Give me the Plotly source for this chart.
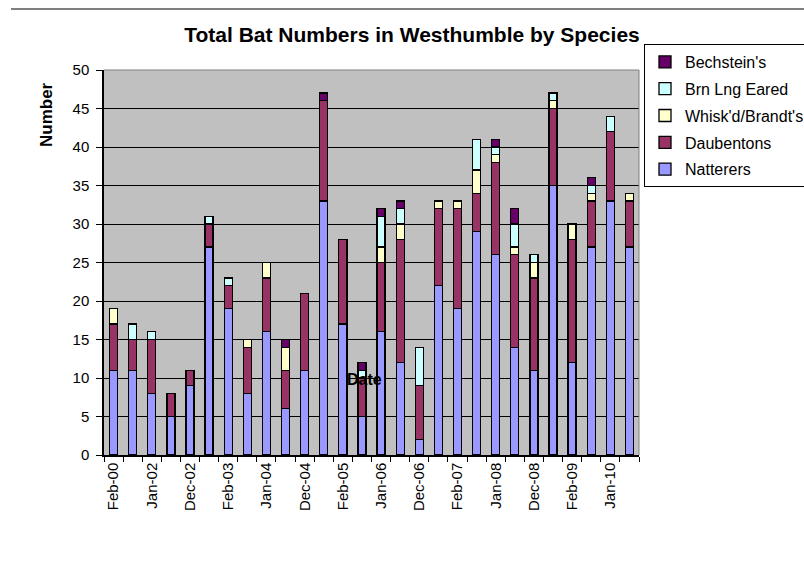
import plotly.graph_objects as go

# Survey dates (every other one is labelled on the axis)
dates = ["Feb-00", "Feb-01", "Jan-02", "Feb-02", "Dec-02", "Jan-03", "Feb-03",
         "Dec-03", "Jan-04", "Feb-04", "Dec-04", "Jan-05", "Feb-05", "Dec-05",
         "Jan-06", "Feb-06", "Dec-06", "Jan-07", "Feb-07", "Dec-07", "Jan-08",
         "Feb-08", "Dec-08", "Jan-09", "Feb-09", "Dec-09", "Jan-10", "Feb-10"]

natterers = [11, 11, 8, 5, 9, 27, 19, 8, 16, 6, 11, 33, 17, 5, 16, 12, 2, 22, 19,
             29, 26, 14, 11, 35, 12, 27, 33, 27]
daubentons = [6, 4, 7, 3, 2, 3, 3, 6, 7, 5, 10, 13, 11, 5, 9, 16, 7, 10, 13, 5,
              12, 12, 12, 10, 16, 6, 9, 6]
whiskered_brandts = [2, 0, 0, 0, 0, 0, 0, 1, 2, 3, 0, 0, 0, 0, 2, 2, 0, 1, 1, 3,
                     1, 1, 2, 1, 2, 1, 0, 1]
brown_long_eared = [0, 2, 1, 0, 0, 1, 1, 0, 0, 0, 0, 0, 0, 1, 4, 2, 5, 0, 0, 4,
                    1, 3, 1, 1, 0, 1, 2, 0]
bechsteins = [0, 0, 0, 0, 0, 0, 0, 0, 0, 1, 0, 1, 0, 1, 1, 1, 0, 0, 0, 0, 1, 2,
              0, 0, 0, 1, 0, 0]

series = [
    ("Natterers", natterers, "#9999FF"),
    ("Daubentons", daubentons, "#993366"),
    ("Whisk'd/Brandt's", whiskered_brandts, "#FFFFCC"),
    ("Brn Lng Eared", brown_long_eared, "#CCFFFF"),
    ("Bechstein's", bechsteins, "#660066"),
]

FONT = "Liberation Sans, Arial, sans-serif"

# plot-area box in pixels
PL, PR, PT, PB = 104, 639, 70, 455
PW, PH = PR - PL, PB - PT

fig = go.Figure()
for i, (name, vals, color) in enumerate(series):
    fig.add_trace(go.Bar(
        x=dates,
        y=[v if v else None for v in vals],
        name=name,
        legendgroup=name,
        legendrank=len(series) - i,
        marker=dict(color=color, line=dict(color="black", width=1.3)),
    ))

tick_text = [d if i % 2 == 0 else "" for i, d in enumerate(dates)]

fig.update_layout(
    width=804, height=579,
    barmode="stack",
    bargap=0.58,
    paper_bgcolor="white",
    plot_bgcolor="#C0C0C0",
    font=dict(family=FONT, size=15, color="black"),
    margin=dict(l=PL, r=804 - PR, t=PT, b=579 - PB, autoexpand=False),
    title=dict(
        text="<b>Total Bat Numbers in Westhumble by Species</b>",
        font=dict(family=FONT, size=21, color="black"),
        xref="container", yref="container",
        x=412 / 804, xanchor="center",
        y=1 - 35 / 579, yanchor="middle",
    ),
    showlegend=True,
    legend=dict(
        traceorder="grouped",
        tracegroupgap=3,
        x=(644 - PL) / PW, xanchor="left",
        y=(PB - 44) / PH, yanchor="top",
        bgcolor="white",
        bordercolor="black", borderwidth=1,
        font=dict(family=FONT, size=16, color="black"),
        itemwidth=30,
    ),
    xaxis=dict(
        type="category",
        tickmode="array",
        tickvals=dates,
        ticktext=tick_text,
        tickson="boundaries",
        tickangle=-90,
        ticks="outside", ticklen=5, tickcolor="black",
        showgrid=False,
        showline=True, linecolor="black", linewidth=1.5,
        tickfont=dict(family=FONT, size=15),
    ),
    yaxis=dict(
        range=[0, 50],
        tick0=0, dtick=5,
        ticks="outside", ticklen=6, tickcolor="black",
        showgrid=True, gridcolor="black", gridwidth=1,
        zeroline=False,
        showline=True, linecolor="black", linewidth=1.5,
        tickfont=dict(family=FONT, size=15),
        ticklabelstandoff=4,
    ),
    shapes=[
        # top and right edges of the plot area
        dict(type="line", xref="paper", yref="paper", x0=0, x1=1, y0=1, y1=1,
             line=dict(color="#808080", width=1)),
        dict(type="line", xref="paper", yref="paper", x0=1, x1=1, y0=0, y1=1,
             line=dict(color="#808080", width=1)),
        # chart-area rule across the top
        dict(type="line", xref="paper", yref="paper",
             x0=(11 - PL) / PW, x1=(804 - PL) / PW,
             y0=(PB - 9) / PH, y1=(PB - 9) / PH,
             line=dict(color="#555555", width=1.5)),
    ],
    annotations=[
        dict(text="<b>Number</b>", xref="paper", yref="paper",
             x=(46 - PL) / PW, y=(PB - 115) / PH,
             xanchor="center", yanchor="middle", textangle=-90,
             showarrow=False, font=dict(family=FONT, size=17, color="black")),
        dict(text="<b>Date</b>", xref="paper", yref="paper",
             x=(364 - PL) / PW, y=(PB - 379) / PH,
             xanchor="center", yanchor="middle",
             showarrow=False, font=dict(family=FONT, size=16, color="black")),
    ],
)

fig.write_html("out.html")
